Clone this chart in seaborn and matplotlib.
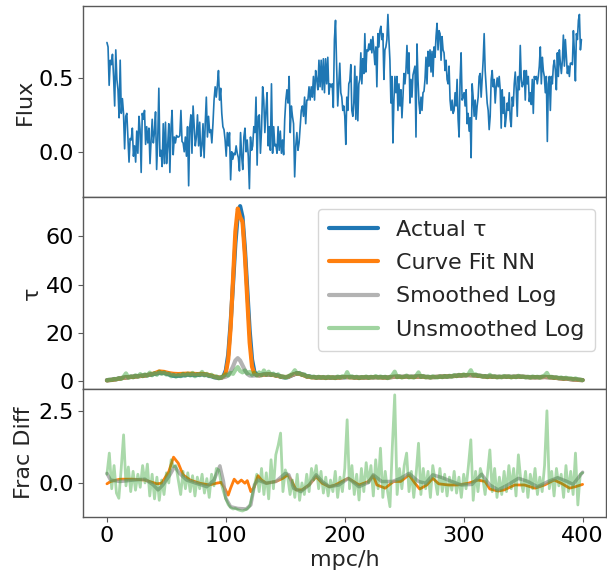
import numpy as np
import matplotlib
matplotlib.use("Agg")
import matplotlib.pyplot as plt
import seaborn as sns

# ---- flux (top panel) in two halves ----
flux_left = [
    0.74, 0.71, 0.45, 0.62, 0.59, 0.66, 0.51, 0.31, 0.69, 0.49,
    0.42, 0.23, 0.62, 0.26, 0.36, 0.26, 0.02, 0.24, 0.26, 0.09,
    -0.07, 0.09, 0.08, 0.16, -0.03, 0.04, -0.07, 0.14, -0.01, 0.24,
    0.15, -0.14, 0.26, 0.22, 0.28, 0.05, 0.17, 0.06, 0.16, -0.08,
    0.08, 0.22, 0.06, 0.13, 0.27, -0.12, 0.08, 0.43, -0.03, 0.01,
    -0.10, 0.19, -0.08, 0.20, -0.08, 0.04, 0.19, -0.14, 0.16, 0.28,
    -0.02, 0.10, 0.06, 0.11, 0.10, 0.10, 0.11, 0.28, 0.07, 0.06,
    0.00, 0.10, -0.03, 0.17, -0.23, 0.17, 0.25, -0.01, 0.31, 0.17,
    0.04, 0.10, 0.25, 0.04, 0.20, -0.03, 0.04, 0.19, -0.04, 0.19,
    0.37, 0.10, 0.24, 0.13, 0.15, 0.06, 0.19, 0.35, 0.44, 0.37,
    0.45, 0.55, 0.35, 0.43, 0.26, 0.17, 0.15, 0.08, -0.03, 0.13,
    0.04, 0.13, -0.19, 0.00, -0.05, -0.01, -0.02, 0.04, -0.01, -0.04,
    -0.13, 0.13, -0.03, -0.12, 0.10, 0.16, 0.00, 0.08, -0.03, -0.25,
    0.10, 0.01, 0.04, 0.17, 0.13, 0.37, -0.09, 0.24, 0.25, -0.01,
    0.15, 0.44, 0.35, 0.13, 0.28, 0.40, 0.04, 0.17, 0.01, 0.46,
    -0.01, 0.17, 0.04, 0.05, -0.01, 0.17, 0.01, 0.14, -0.01, 0.08,
    -0.02, 0.22, 0.35, 0.42, 0.33, 0.51, 0.13, 0.31, 0.24, 0.19,
    -0.17, 0.04, 0.13, 0.01, 0.06, 0.17, 0.28, 0.31, 0.24, 0.37,
    0.19, 0.35, 0.35, 0.44, 0.35, 0.44, 0.37, 0.51, 0.35, 0.55,
    0.49, 0.42, 0.62, 0.44, 0.62, 0.42, 0.63, 0.40, 0.63, 0.46,
    0.64, 0.39, 0.46, 0.44, 0.46, 0.30, 0.76, 0.89, 0.58, 0.31,
    0.46,
]
flux_right = [
    0.60, 0.40, 0.37, 0.28, 0.31, 0.24, 0.05, 0.37, 0.28, 0.46,
    0.48, 0.59, 0.28, 0.24, 0.33, 0.58, 0.22, 0.51, 0.21, 0.46,
    0.49, 0.67, 0.46, 0.63, 0.53, 0.80, 0.54, 0.69, 0.68, 0.73,
    0.69, 0.76, 0.67, 0.78, 0.69, 0.59, 0.71, 0.44, 0.80, 0.71,
    0.82, 0.85, 0.76, 0.80, 0.49, 0.69, 0.71, 0.76, 0.93, 0.76,
    0.62, 0.33, 0.51, 0.06, 0.35, 0.51, 0.40, 0.51, 0.28, 0.46,
    0.31, 0.42, 0.23, 0.37, 0.53, 0.46, 0.55, 0.72, 0.53, 0.67,
    0.33, 0.49, 0.37, 0.52, 0.55, 0.58, 0.10, 0.73, 0.49, 0.33,
    0.26, 0.37, 0.28, 0.40, 0.41, 0.49, 0.64, 0.46, 0.68, 0.58,
    0.69, 0.54, 0.68, 0.51, 0.71, 0.64, 0.78, 0.87, 0.69, 0.82,
    0.80, 0.62, 0.78, 0.69, 0.67, 0.55, 0.62, 0.49, 0.46, 0.58,
    0.35, 0.28, 0.35, 0.26, 0.28, 0.40, 0.31, 0.49, 0.22, 0.10,
    0.49, 0.67, 0.35, 0.37, 0.40, 0.31, 0.42, 0.19, 0.26, 0.14,
    0.23, -0.04, 0.46, 0.37, 0.24, 0.35, 0.22, 0.31, 0.37, 0.51,
    0.53, 0.37, 0.49, 0.62, 0.80, 0.55, 0.44, 0.33, 0.28, 0.15,
    0.24, 0.49, 0.55, 0.44, 0.49, 0.33, 0.44, 0.50, 0.44, 0.51,
    0.42, 0.16, 0.42, 0.26, 0.37, 0.17, 0.24, 0.33, 0.28, 0.40,
    0.22, 0.17, 0.37, 0.31, 0.46, 0.54, 0.42, 0.24, 0.51, 0.42,
    0.72, 0.49, 0.44, 0.46, 0.55, 0.35, 0.55, 0.46, 0.51, 0.34,
    0.40, 0.32, 0.49, 0.26, 0.51, 0.49, 0.51, 0.46, 0.51, 0.58,
    0.71, 0.46, 0.64, 0.55, 0.51, 0.40, 0.51, 0.07, 0.46, 0.51,
    0.28, 0.51, 0.46, 0.58, 0.62, 0.55, 0.42, 0.67, 0.51, 0.69,
    0.60, 0.53, 0.62, 0.79, 0.58, 0.76, 0.64, 0.53, 0.58, 0.51,
    0.60, 0.60, 0.59, 0.82, 0.67, 0.48, 0.80, 0.76, 0.89, 0.93,
    0.69, 0.76,
]
flux_split = 195.0   # mpc/h where the two halves meet
flux_end = 399.0

# ---- tau (middle panel) ----
# smooth curves sampled every 4 mpc/h, every 2 around the absorber
tau_x = np.concatenate([np.arange(0, 97, 4), np.arange(98, 129, 2), np.arange(132, 401, 4)])
tau_actual = [
    0.3, 0.5, 0.8, 1.2, 1.5, 1.7, 1.9, 2.1, 2.3, 2.6, 3.0, 3.5, 3.5, 2.8, 2.2, 2.2, 2.4, 2.6, 2.5, 2.5,
    2.8, 2.5, 2.0, 1.4, 1.3,
    2.0, 4.5, 11, 24, 40, 57, 69, 72.5, 68, 55, 38, 21, 9, 3.8, 2.6, 2.4,
    2.7, 2.7, 2.6, 2.2, 1.6, 1.6, 2.5, 3.3, 2.8, 2.0, 1.7, 1.5, 1.5, 1.4, 1.4, 1.4, 1.5, 1.6, 1.7, 1.5,
    1.4, 1.5, 1.5, 1.6, 1.6, 1.5, 1.5, 1.7, 1.8, 1.7, 1.8, 1.7, 1.8, 1.9, 1.7, 1.6, 1.7, 1.8, 1.9, 2.0,
    2.1, 2.3, 2.4, 2.5, 2.4, 2.2, 2.0, 1.8, 1.8, 1.7, 1.7, 1.8, 1.7, 1.8, 1.8, 1.7, 1.6, 1.6, 1.6, 1.7,
    1.6, 1.4, 1.2, 1.0, 0.9, 0.7, 0.5, 0.4,
]
tau_nn = [
    0.3, 0.5, 0.8, 1.2, 1.5, 1.7, 1.9, 2.1, 2.3, 2.7, 3.2, 4.0, 3.8, 3.3, 3.0, 2.9, 3.0, 3.1, 3.0, 2.9,
    3.0, 2.7, 2.2, 1.6, 1.4,
    1.8, 3.5, 9, 22, 42, 62, 71.5, 68, 66, 52, 34, 16, 6, 3.0, 2.5, 2.4,
    2.6, 2.8, 2.5, 2.1, 1.7, 1.7, 2.6, 3.2, 2.7, 1.9, 1.6, 1.5, 1.5, 1.4, 1.5, 1.4, 1.5, 1.7, 1.6, 1.5,
    1.4, 1.5, 1.5, 1.6, 1.6, 1.5, 1.5, 1.7, 1.8, 1.7, 1.8, 1.7, 1.8, 1.9, 1.7, 1.6, 1.7, 1.8, 1.9, 2.0,
    2.1, 2.3, 2.4, 2.5, 2.4, 2.2, 2.0, 1.8, 1.8, 1.7, 1.7, 1.8, 1.7, 1.8, 1.8, 1.7, 1.6, 1.6, 1.6, 1.7,
    1.6, 1.4, 1.2, 1.0, 0.9, 0.7, 0.5, 0.4,
]
tau_smooth = [
    0.4, 0.6, 0.9, 1.3, 1.5, 1.8, 2.0, 2.2, 2.4, 2.7, 3.0, 3.3, 3.3, 2.8, 2.4, 2.3, 2.5, 2.6, 2.6, 2.6,
    2.7, 2.5, 2.0, 1.5, 1.4,
    1.6, 1.8, 2.5, 4.0, 6.0, 8.5, 9.5, 8.5, 6.5, 4.5, 3.0, 2.3, 2.2, 2.3, 2.4, 2.4,
    2.7, 2.8, 2.6, 2.2, 1.7, 1.7, 2.6, 3.3, 2.8, 2.0, 1.7, 1.6, 1.5, 1.5, 1.5, 1.5, 1.6, 1.7, 1.7, 1.6,
    1.5, 1.5, 1.6, 1.6, 1.7, 1.6, 1.6, 1.7, 1.8, 1.8, 1.8, 1.8, 1.9, 1.9, 1.8, 1.7, 1.7, 1.8, 1.9, 2.0,
    2.2, 2.3, 2.4, 2.5, 2.4, 2.3, 2.1, 1.9, 1.8, 1.8, 1.7, 1.8, 1.8, 1.8, 1.8, 1.7, 1.7, 1.6, 1.7, 1.7,
    1.6, 1.5, 1.3, 1.1, 0.9, 0.7, 0.6, 0.4,
]
# unsmoothed log, every 2 mpc/h
raw_x = np.arange(0, 401, 2)
tau_raw = [
    0.3, 0.6, 0.4, 0.9, 0.7, 1.2, 0.9, 1.8, 3.2, 1.4,
    2.0, 1.5, 2.4, 1.8, 2.9, 2.0, 2.8, 2.2, 3.5, 2.4,
    3.3, 2.6, 3.9, 3.0, 3.6, 2.7, 3.1, 2.0, 2.6, 1.8,
    2.5, 2.0, 3.0, 2.2, 3.1, 2.3, 3.4, 2.0, 2.9, 2.4,
    3.8, 2.3, 3.0, 2.0, 2.6, 1.5, 2.0, 1.1, 1.5, 2.2,
    2.8, 2.3, 3.4, 3.0, 4.6, 5.8, 4.2, 3.6, 4.4, 3.2,
    3.8, 2.6, 3.5, 2.3, 3.6, 2.4, 4.4, 2.6, 3.9, 2.5,
    3.1, 2.2, 2.8, 1.7, 2.0, 1.3, 1.9, 2.4, 3.1, 4.5,
    3.0, 3.4, 2.5, 2.8, 1.8, 2.1, 1.5, 1.9, 1.3, 1.8,
    1.4, 1.7, 1.2, 1.8, 1.4, 1.6, 1.2, 1.9, 1.5, 2.0,
    1.6, 3.7, 1.5, 2.0, 1.4, 1.8, 1.2, 1.7, 1.5, 1.9,
    1.3, 1.8, 1.5, 2.1, 1.4, 1.9, 1.5, 1.8, 1.2, 1.7,
    2.4, 3.9, 1.6, 2.0, 1.5, 1.8, 2.3, 1.5, 1.9, 1.4,
    2.2, 3.6, 1.7, 2.1, 1.5, 1.9, 1.4, 2.0, 1.6, 1.5,
    2.0, 1.6, 2.1, 1.7, 2.2, 1.8, 2.5, 2.0, 2.6, 2.2,
    2.8, 2.3, 2.9, 4.5, 2.4, 2.8, 2.1, 2.3, 1.8, 2.1,
    1.6, 2.6, 1.7, 2.0, 1.5, 1.9, 1.6, 2.1, 1.7, 2.0,
    1.5, 1.9, 1.6, 2.2, 1.7, 1.9, 1.5, 1.8, 1.4, 1.9,
    1.6, 1.8, 1.4, 1.9, 2.3, 3.4, 1.6, 1.8, 1.3, 1.6,
    1.2, 1.5, 1.0, 1.4, 1.0, 1.2, 0.8, 1.1, 0.7, 0.6,
    0.4,
]

# ---- fractional difference (bottom panel) ----
nn_frac_x = [0, 3, 11, 22, 32, 42, 46, 52, 56, 60, 64, 70, 78, 86, 92, 96, 99, 102, 104, 107,
             110, 113, 116, 118, 121, 124, 127, 130, 134, 142, 148, 152, 155, 159, 164, 170, 176,
             181, 187, 192, 199, 203, 212, 220, 224, 227, 234, 241, 247, 254, 259, 263, 269, 274,
             279, 287, 295, 304, 312, 318, 322, 329, 334, 343, 351, 360, 368, 376, 382, 389, 394, 400]
nn_frac = [-0.03, 0.05, 0.13, 0.13, 0.10, -0.03, -0.01, 0.39, 0.89, 0.68, 0.28, 0.10, -0.01, -0.07,
           -0.01, 0.02, -0.18, -0.42, -0.18, 0.13, -0.01, 0.10, -0.01, 0.08, -0.30, -0.13, 0.25,
           0.10, -0.01, 0.05, 0.16, 0.28, 0.10, -0.24, -0.24, -0.07, 0.22, -0.01, -0.13, -0.07,
           0.08, 0.16, -0.07, 0.05, 0.25, -0.07, -0.18, 0.05, 0.05, 0.28, -0.01, -0.21, -0.07,
           0.16, -0.03, -0.07, -0.07, -0.01, 0.10, 0.05, -0.21, -0.28, -0.24, -0.07, -0.07, -0.18,
           -0.07, 0.10, -0.01, -0.18, -0.13, -0.05]
sm_frac_x = [0, 3, 11, 22, 32, 39, 43, 47, 53, 57, 61, 67, 75, 84, 90, 95, 98, 100, 104, 110,
             117, 121, 124, 127, 134, 142, 150, 153, 157, 163, 170, 176, 181, 187, 195, 203, 212,
             220, 224, 231, 240, 247, 254, 262, 268, 274, 282, 290, 298, 307, 315, 322, 329, 337,
             346, 354, 362, 371, 379, 387, 392, 396, 400]
sm_frac = [0.33, 0.10, 0.05, 0.10, 0.13, -0.07, -0.24, -0.07, 0.28, 0.57, 0.33, 0.10, -0.01, -0.13,
           0.10, 0.59, 0.05, -0.53, -0.82, -0.88, -0.90, -0.76, -0.07, 0.10, -0.01, 0.05, 0.33,
           0.28, -0.18, -0.30, -0.07, 0.28, 0.05, -0.13, -0.07, 0.16, -0.13, 0.02, 0.28, 0.05,
           0.05, 0.16, 0.33, 0.05, -0.01, 0.28, 0.18, 0.05, -0.07, -0.05, 0.30, -0.07, -0.24,
           -0.07, 0.16, 0.05, -0.13, 0.05, 0.18, 0.05, -0.05, 0.16, 0.37]
raw_frac = [
    0.30, 1.03, -0.20, 0.60, -0.35, -0.53, 0.50, 1.66, -0.10, 0.55,
    -0.30, 0.40, -0.25, 0.30, -0.15, 0.60, 0.00, 0.65, -0.45, 0.30,
    -0.55, 0.20, -0.60, 0.10, -0.40, 0.35, 0.00, 0.80, 0.55, 0.60,
    0.10, -0.40, 0.40, -0.20, 0.35, -0.30, 0.25, -0.45, 0.20, -0.20,
    0.30, -0.35, 0.15, -0.50, 0.30, -0.10, 0.50, 0.45, 0.00, -0.30,
    -0.55, -0.75, -0.85, -0.90, -0.88, -0.92, -0.95, -0.97, -0.93, -0.90,
    -0.80, -0.45, -0.10, 0.30, -0.30, 0.50, -0.40, 0.35, -0.55, 0.80,
    -0.20, 0.97, 1.30, 1.72, -0.30, 0.45, 0.20, -0.40, 0.10, -0.50,
    0.30, -0.60, 0.00, -0.40, 0.30, -0.30, 0.50, 0.10, 0.60, -0.20,
    0.40, -0.35, 0.20, -0.45, 0.10, -0.30, 0.40, -0.50, 0.20, -0.30,
    0.50, 2.18, -0.20, 0.60, -0.40, 0.30, -0.59, 0.50, -0.30, 0.70,
    0.00, 0.60, -0.45, 0.80, -0.20, 1.20, -0.50, 0.40, -0.30, -0.82,
    1.26, 3.04, -0.40, 0.50, -0.20, 0.60, 1.03, -0.30, 0.40, -0.50,
    0.30, 1.37, -0.40, 0.50, -0.20, 0.40, -0.50, 0.60, 0.10, -0.40,
    0.50, -0.30, 0.30, -0.45, 0.20, -0.25, 0.40, -0.35, 0.20, -0.50,
    0.30, -0.20, 0.60, 1.49, -0.60, 0.40, -0.30, 0.50, 0.20, -0.40,
    0.30, 1.14, -0.30, 0.50, -0.50, 0.20, -0.40, 0.40, -0.30, 0.60,
    -0.20, 0.50, -0.45, 0.97, 0.10, -0.30, 0.40, -0.50, 0.30, -0.20,
    0.50, -0.40, 0.20, -0.30, 0.60, 2.49, -0.20, 0.40, -0.45, 0.50,
    -0.10, 0.30, -0.50, 0.60, -0.30, 0.40, -0.40, 1.03, -0.76, 0.30,
    0.35,
]

BLUE = "#1f77b4"
ORANGE = "#ff7f0e"
GRAY = "#9a9a9a"
GREEN = "#2ca02c"

sns.set_theme(style="ticks")
plt.rcParams.update({
    "font.family": ["DejaVu Sans"],
    "font.size": 16,
    "axes.labelsize": 16,
    "xtick.labelsize": 16,
    "ytick.labelsize": 16,
    "legend.fontsize": 16,
    "axes.edgecolor": "0.35",
    "axes.linewidth": 1.0,
    "xtick.color": "0.35",
    "ytick.color": "0.35",
    "xtick.labelcolor": "black",
    "ytick.labelcolor": "black",
    "xtick.major.size": 3.5,
    "ytick.major.size": 3.5,
    "xtick.major.width": 0.8,
    "ytick.major.width": 0.8,
    "xtick.major.pad": 3.0,
    "ytick.major.pad": 3.0,
    "axes.labelpad": 3.0,
})

fig = plt.figure(figsize=(6.07, 5.73), dpi=100)
gs = fig.add_gridspec(3, 1, height_ratios=[3, 3, 2], hspace=0,
                      left=0.137, right=0.999, top=0.990, bottom=0.098)
ax1 = fig.add_subplot(gs[0])
ax2 = fig.add_subplot(gs[1], sharex=ax1)
ax3 = fig.add_subplot(gs[2], sharex=ax1)

# top: flux
flux = np.array(flux_left + flux_right)
flux_x = np.concatenate([np.linspace(0, flux_split, len(flux_left)),
                         np.linspace(flux_split + 0.8, flux_end, len(flux_right))])
sns.lineplot(x=flux_x, y=flux, ax=ax1, color=BLUE, linewidth=1.2)
ax1.set_ylabel("Flux")
ax1.set_yticks([0.0, 0.5])

# middle: tau
sns.lineplot(x=tau_x, y=tau_actual, ax=ax2, color=BLUE, linewidth=3, label="Actual τ")
sns.lineplot(x=tau_x, y=tau_nn, ax=ax2, color=ORANGE, linewidth=3, label="Curve Fit NN")
sns.lineplot(x=tau_x, y=tau_smooth, ax=ax2, color=GRAY, linewidth=3, alpha=0.75, label="Smoothed Log")
sns.lineplot(x=raw_x, y=tau_raw, ax=ax2, color=GREEN, linewidth=3, alpha=0.45, label="Unsmoothed Log")
ax2.set_ylabel("τ")
ax2.set_yticks([0, 20, 40, 60])
ax2.legend(loc="upper right", handlelength=2.2, labelspacing=0.6, borderpad=0.5)

# bottom: fractional difference
sns.lineplot(x=nn_frac_x, y=nn_frac, ax=ax3, color=ORANGE, linewidth=2)
sns.lineplot(x=sm_frac_x, y=sm_frac, ax=ax3, color=GRAY, linewidth=2.5, alpha=0.75)
sns.lineplot(x=raw_x, y=raw_frac, ax=ax3, color=GREEN, linewidth=2, alpha=0.4)
ax3.set_ylabel("Frac Diff")
ax3.set_yticks([0.0, 2.5])
ax3.set_xlabel("mpc/h")
ax3.set_xticks([0, 100, 200, 300, 400])
ax3.set_xlim(-20, 420)

for ax in (ax1, ax2):
    ax.tick_params(axis="x", bottom=False, labelbottom=False)
    ax.set_xlabel("")

fig.savefig("out.png", dpi=100)
